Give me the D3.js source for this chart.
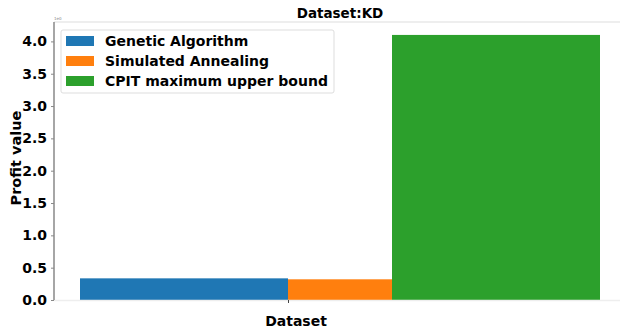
<!DOCTYPE html>
<html>
<head>
<meta charset="utf-8">
<script src="https://cdn.jsdelivr.net/npm/d3@7"></script>
<style>
  html, body { margin: 0; padding: 0; background: #fff; }
  svg { display: block; font-family: "DejaVu Sans", sans-serif; }
</style>
</head>
<body>
<svg id="chart" width="620" height="330"></svg>
<script>
// Profit per method on dataset KD
const methods = ["Genetic Algorithm", "Simulated Annealing", "CPIT maximum upper bound"];
const profits = [0.335, 0.32, 4.10];
const colors = ["#1f77b4", "#ff7f0e", "#2ca02c"];
// bar extents in group units relative to the category tick
const barStart = [-1, 0, 0.5];
const barEnd = [0, 1, 1.5];
const yTicks = [0.0, 0.5, 1.0, 1.5, 2.0, 2.5, 3.0, 3.5, 4.0];
const category = "Dataset";

const svg = d3.select("#chart");
const mLeft = 54, mTop = 22, mBottom = 300, mRight = 626;

const x = d3.scaleLinear().domain([-1.125, 1.625]).range([mLeft, mRight]);
const y = d3.scaleLinear().domain([0, 4.3]).range([mBottom, mTop]);

const plot = svg.append("g");

// bars
plot.selectAll("rect.bar")
  .data(profits)
  .join("rect")
  .attr("class", "bar")
  .attr("x", (d, i) => x(barStart[i]))
  .attr("width", (d, i) => x(barEnd[i]) - x(barStart[i]))
  .attr("y", d => y(d))
  .attr("height", d => y(0) - y(d))
  .attr("fill", (d, i) => colors[i]);

// spines
svg.append("line").attr("x1", mLeft).attr("x2", 620).attr("y1", mTop).attr("y2", mTop)
  .attr("stroke", "#ddd").attr("stroke-width", 1);
svg.append("line").attr("x1", mLeft).attr("x2", 620).attr("y1", mBottom + 0.5).attr("y2", mBottom + 0.5)
  .attr("stroke", "#eee").attr("stroke-width", 1.5);
svg.append("line").attr("x1", mLeft).attr("x2", mLeft).attr("y1", mTop).attr("y2", mBottom)
  .attr("stroke", "#888").attr("stroke-width", 1.5);

// y axis
const yAxis = d3.axisLeft(y).tickValues(yTicks).tickFormat(d3.format(".1f")).tickSize(3).tickPadding(4);
const gy = svg.append("g").attr("transform", `translate(${mLeft},0)`).call(yAxis);
gy.select(".domain").remove();
gy.selectAll(".tick line").attr("stroke", "#888");
gy.selectAll(".tick text").attr("font-size", 14).attr("font-weight", "bold").attr("fill", "#000")
  .attr("font-family", "DejaVu Sans");

// x axis
const xAxis = d3.axisBottom(x).tickValues([0]).tickFormat(() => "").tickSize(3);
const gx = svg.append("g").attr("transform", `translate(0,${mBottom})`).call(xAxis);
gx.select(".domain").remove();
gx.selectAll(".tick line").attr("stroke", "#444");

// axis titles
svg.append("text").attr("x", 296).attr("y", 326).attr("text-anchor", "middle")
  .attr("font-size", 14).attr("font-weight", "bold").text(category);
svg.append("text").attr("transform", `translate(21,${(mTop + mBottom) / 2 - 3}) rotate(-90)`)
  .attr("text-anchor", "middle").attr("font-size", 14.5).attr("font-weight", "bold").text("Profit value");
svg.append("text").attr("x", 340).attr("y", 18).attr("text-anchor", "middle")
  .attr("font-size", 13.5).attr("font-weight", "bold").text("Dataset:KD");
svg.append("text").attr("x", 54).attr("y", 20).attr("font-size", 4).attr("fill", "#888").text("1e0");

// legend
const lg = svg.append("g").attr("transform", "translate(61,30)");
lg.append("rect").attr("x", 0).attr("y", 0).attr("width", 273).attr("height", 63).attr("rx", 2)
  .attr("fill", "#fff").attr("fill-opacity", 0.8).attr("stroke", "#ddd").attr("stroke-width", 1);
const items = lg.selectAll("g.item").data(methods).join("g").attr("class", "item")
  .attr("transform", (d, i) => `translate(0,${11 + i * 20})`);
items.append("rect").attr("x", 5).attr("y", -5).attr("width", 28).attr("height", 10)
  .attr("fill", (d, i) => colors[i]);
items.append("text").attr("x", 44).attr("y", 5).attr("font-size", 14).attr("font-weight", "bold")
  .text(d => d);
</script>
</body>
</html>
